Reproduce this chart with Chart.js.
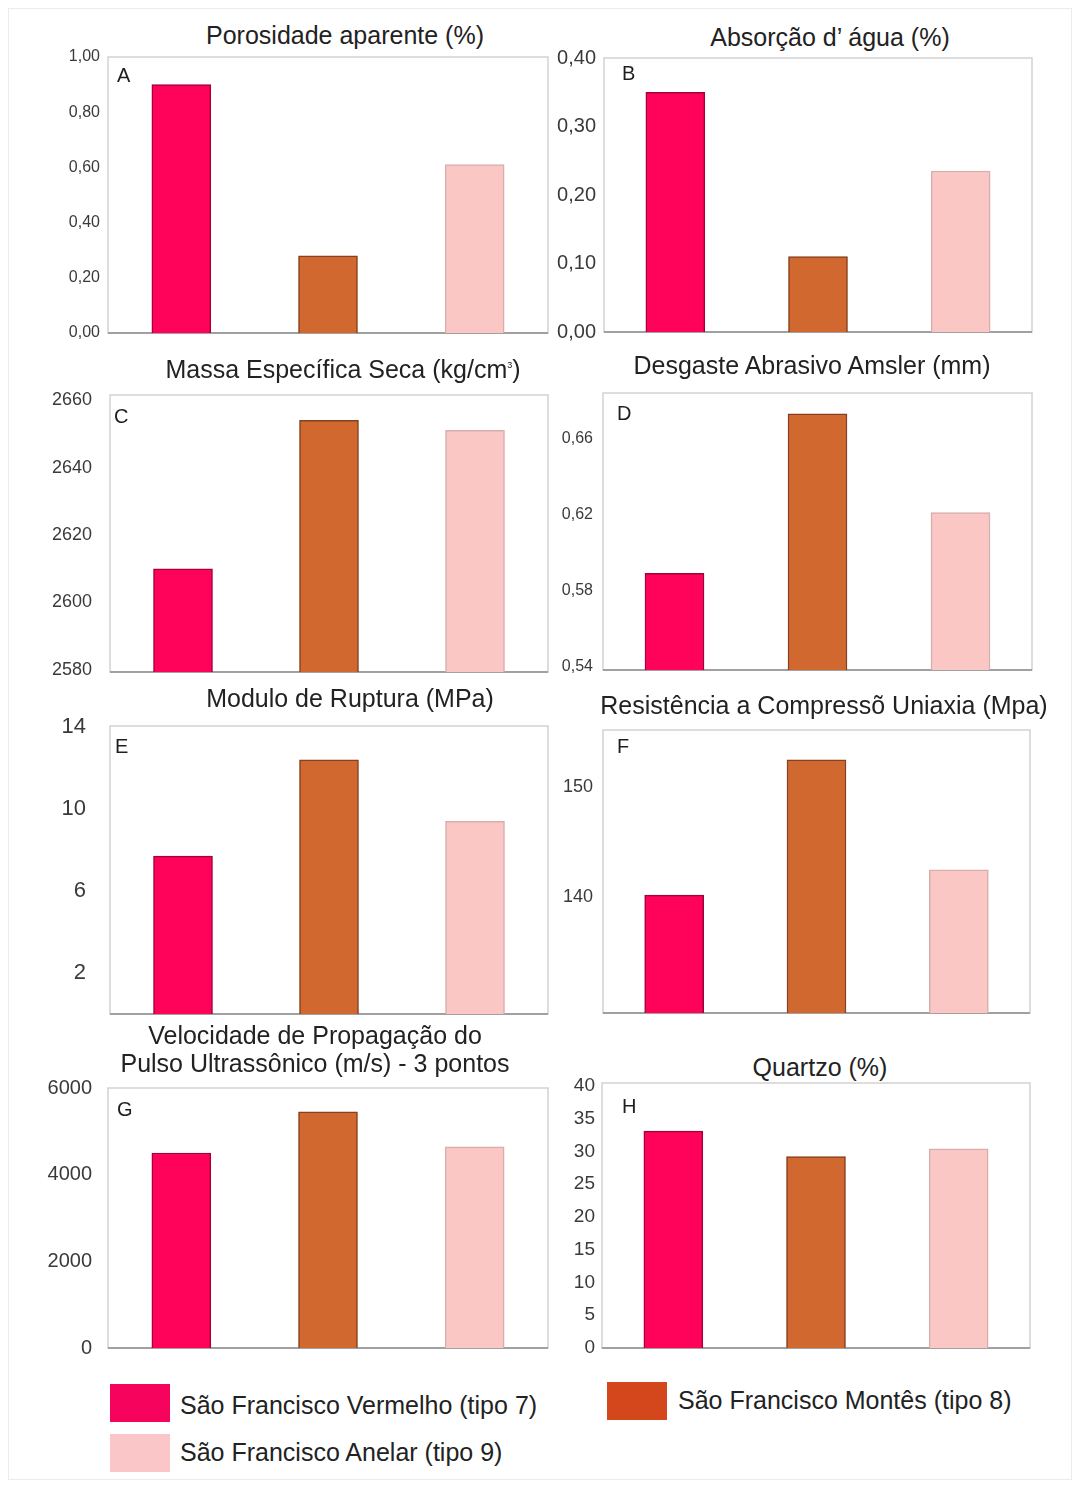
<!DOCTYPE html>
<html>
<head>
<meta charset="utf-8">
<script src="https://cdn.jsdelivr.net/npm/chart.js@4/dist/chart.umd.min.js"></script>
<style>
body { margin: 0; background: #fff; font-family: "Liberation Sans", Arial, sans-serif; }
#page { position: relative; width: 1080px; height: 1486px; overflow: hidden; }
#frame { position: absolute; left: 8px; top: 8px; width: 1062px; height: 1470px; border: 1px solid #ececec; }
.titulo { position: absolute; transform: translate(-50%, -50%); font-size: 25px; color: #222; white-space: nowrap; text-align: center; line-height: 28px; }
.titulo sup { font-size: 9px; }
canvas { position: absolute; }
.caixa { position: absolute; width: 60px; height: 38px; }
.rotulo { position: absolute; font-size: 25px; color: #222; white-space: nowrap; transform: translateY(-50%); }
</style>
</head>
<body>
<div id="page"><div id="frame"></div></div>
<script>
//<![CDATA[

let categorias = ['São Francisco Vermelho (tipo 7)', 'São Francisco Montês (tipo 8)', 'São Francisco Anelar (tipo 9)'];

let porosidade = [0.90, 0.28, 0.61];
let absorcao = [0.35, 0.11, 0.235];
let massaEspecifica = [2610, 2654, 2651];
let desgaste = [0.589, 0.673, 0.621];
let moduloRuptura = [7.7, 12.4, 9.4];
let compressao = [140.2, 152.5, 142.5];
let velocidade = [4500, 5450, 4640];
let quartzo = [33.1, 29.2, 30.4];

let ticksPorosidade = [0, 0.2, 0.4, 0.6, 0.8, 1.0];
let ticksAbsorcao = [0, 0.1, 0.2, 0.3, 0.4];
let ticksMassa = [2580, 2600, 2620, 2640, 2660];
let ticksDesgaste = [0.54, 0.58, 0.62, 0.66];
let ticksModulo = [2, 6, 10, 14];
let ticksCompressao = [140, 150];
let ticksVelocidade = [0, 2000, 4000, 6000];
let ticksQuartzo = [0, 5, 10, 15, 20, 25, 30, 35, 40];

let corBarras = ['#ff035a', '#d0682f', '#fac7c5'];
let corBordas = ['#a3003c', '#86401f', '#d6aeac'];
let corLegenda = ['#f5035c', '#d4461c', '#fac6c8'];

// geometria de cada painel (area do grafico em px da pagina)
let paineis = [
    { letra: 'A', lx: 9, ly: 19, dados: porosidade, ticks: ticksPorosidade, min: 0, max: 1, casas: 2, L: 108, R: 548, T: 57, B: 333, fonte: 16, pad: 8,
      titulo: 'Porosidade aparente (%)', tx: 345, ty: 35 },
    { letra: 'B', lx: 18, ly: 16, dados: absorcao, ticks: ticksAbsorcao, min: 0, max: 0.4, casas: 2, L: 604, R: 1032, T: 58, B: 332, fonte: 20, pad: 8,
      titulo: 'Absorção d\u2019 água (%)', tx: 830, ty: 37 },
    { letra: 'C', lx: 4, ly: 22, dados: massaEspecifica, ticks: ticksMassa, min: 2579.4, max: 2661.5, casas: 0, L: 110, R: 548, T: 395, B: 672, fonte: 18, pad: 18,
      titulo: 'Massa Específica Seca (kg/cm<sup>3</sup>)', tx: 343, ty: 367 },
    { letra: 'D', lx: 14, ly: 21, dados: desgaste, ticks: ticksDesgaste, min: 0.538, max: 0.684, casas: 2, L: 603, R: 1032, T: 393, B: 670, fonte: 16, pad: 10,
      titulo: 'Desgaste Abrasivo Amsler (mm)', tx: 812, ty: 365 },
    { letra: 'E', lx: 5, ly: 21, dados: moduloRuptura, ticks: ticksModulo, min: 0, max: 14.05, casas: 0, L: 110, R: 548, T: 726, B: 1014, fonte: 22, pad: 24,
      titulo: 'Modulo de Ruptura (MPa)', tx: 350, ty: 698 },
    { letra: 'F', lx: 14, ly: 17, dados: compressao, ticks: ticksCompressao, min: 129.5, max: 155.2, casas: 0, L: 603, R: 1030, T: 730, B: 1013, fonte: 18, pad: 10,
      titulo: 'Resistência a Compressõ Uniaxia (Mpa)', tx: 824, ty: 705 },
    { letra: 'G', lx: 9, ly: 22, dados: velocidade, ticks: ticksVelocidade, min: 0, max: 6000, casas: 0, L: 108, R: 548, T: 1088, B: 1348, fonte: 20, pad: 16,
      titulo: 'Velocidade de Propagação do<br>Pulso Ultrassônico (m/s) - 3 pontos', tx: 315, ty: 1049 },
    { letra: 'H', lx: 20, ly: 24, dados: quartzo, ticks: ticksQuartzo, min: 0, max: 40.45, casas: 0, L: 602, R: 1030, T: 1083, B: 1348, fonte: 19, pad: 7,
      titulo: 'Quartzo (%)', tx: 820, ty: 1067 }
];

const larguraEixo = 64;

const moldura = {
    id: 'moldura',
    beforeDatasetsDraw(chart) {
        const a = chart.chartArea;
        const ctx = chart.ctx;
        ctx.save();
        ctx.strokeStyle = '#d2d2d2';
        ctx.lineWidth = 1.5;
        ctx.strokeRect(a.left, a.top, a.right - a.left, a.bottom - a.top);
        ctx.strokeStyle = '#8c8c8c';
        ctx.beginPath();
        ctx.moveTo(a.left, a.bottom);
        ctx.lineTo(a.right, a.bottom);
        ctx.stroke();
        ctx.restore();
    },
    afterDraw(chart, args, opts) {
        const a = chart.chartArea;
        const ctx = chart.ctx;
        ctx.save();
        ctx.fillStyle = '#1e1e1e';
        ctx.font = '20px "Liberation Sans", Arial, sans-serif';
        ctx.textBaseline = 'middle';
        ctx.fillText(opts.letra, a.left + opts.lx, a.top + opts.ly);
        ctx.restore();
    }
};

let page = document.getElementById('page');

paineis.forEach(function(p) {
    let t = document.createElement('div');
    t.className = 'titulo';
    t.style.left = p.tx + 'px';
    t.style.top = p.ty + 'px';
    t.innerHTML = p.titulo;
    page.appendChild(t);

    // folga maior que a que a escala pede (padding + meia altura do rotulo)
    let folga = Math.ceil(p.pad + p.fonte * 0.6) + 3;
    let w = (p.R - p.L) + larguraEixo + 2;
    let h = (p.B - p.T) + folga * 2;
    let canvas = document.createElement('canvas');
    canvas.setAttribute('width', w);
    canvas.setAttribute('height', h);
    canvas.style.left = (p.L - larguraEixo) + 'px';
    canvas.style.top = (p.T - folga) + 'px';
    canvas.style.width = w + 'px';
    canvas.style.height = h + 'px';
    page.appendChild(canvas);

    new Chart(canvas, {
        type: 'bar',
        data: {
            labels: categorias,
            datasets: [
                {
                    label: '',
                    data: p.dados,
                    backgroundColor: corBarras,
                    borderColor: corBordas,
                    borderWidth: 1.5,
                    borderSkipped: 'bottom',
                    barThickness: 59
                }
            ]
        },
        options: {
            responsive: false,
            animation: false,
            layout: {
                padding: { top: folga, bottom: folga, left: 0, right: 2 }
            },
            plugins: {
                legend: { display: false },
                tooltip: { enabled: false },
                moldura: { letra: p.letra, lx: p.lx, ly: p.ly }
            },
            scales: {
                x: { display: false },
                y: {
                    min: p.min,
                    max: p.max,
                    grid: { display: false, drawTicks: false },
                    border: { display: false },
                    afterFit: function(scale) { scale.width = larguraEixo; },
                    afterBuildTicks: function(scale) {
                        scale.ticks = p.ticks.map(function(v) { return { value: v }; });
                    },
                    ticks: {
                        padding: p.pad,
                        color: '#3a3a3a',
                        font: { family: '"Liberation Sans", Arial, sans-serif', size: p.fonte },
                        callback: function(v) { return Number(v).toFixed(p.casas).replace('.', ','); }
                    }
                }
            }
        },
        plugins: [moldura]
    });
});

// legenda
let posLegenda = [
    { x: 110, y: 1384, tx: 180, ty: 1405 },
    { x: 607, y: 1382, tx: 678, ty: 1400 },
    { x: 110, y: 1434, tx: 180, ty: 1452 }
];
categorias.forEach(function(nome, i) {
    let c = document.createElement('div');
    c.className = 'caixa';
    c.style.left = posLegenda[i].x + 'px';
    c.style.top = posLegenda[i].y + 'px';
    c.style.background = corLegenda[i];
    page.appendChild(c);
    let r = document.createElement('div');
    r.className = 'rotulo';
    r.style.left = posLegenda[i].tx + 'px';
    r.style.top = posLegenda[i].ty + 'px';
    r.textContent = nome;
    page.appendChild(r);
});

// ]]>
</script>
</body>
</html>
